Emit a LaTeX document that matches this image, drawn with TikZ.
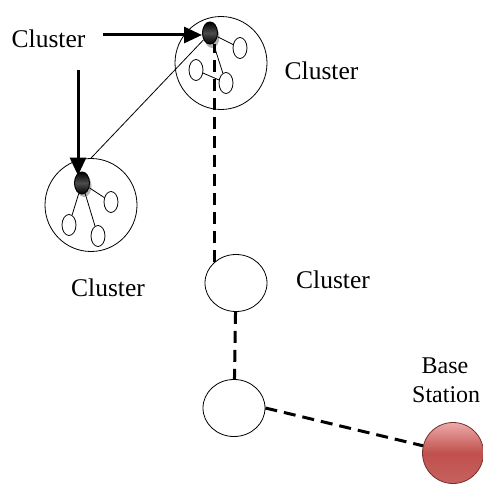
\documentclass[tikz,border=0pt]{standalone}
\usepackage{fontspec}
\setmainfont{Liberation Serif}
\usetikzlibrary{arrows.meta,shapes.geometric}
\definecolor{bsred}{RGB}{192,80,77}
\definecolor{bslight}{RGB}{236,170,168}
\begin{document}
\begin{tikzpicture}[x=1pt,y=-1pt,
  bigcirc/.style={draw,line width=0.8pt,ellipse,minimum width=92pt,minimum height=93pt,inner sep=0},
  midcirc/.style={draw,line width=0.8pt,ellipse,minimum width=62pt,minimum height=57pt,inner sep=0},
  small/.style={draw,line width=0.8pt,ellipse,minimum width=14pt,minimum height=21pt,inner sep=0,fill=white},
  head/.style={ellipse,minimum width=15pt,minimum height=22pt,inner sep=0,draw=black,line width=1pt,
     top color=black,bottom color=black,middle color=gray!60!black},
  link/.style={line width=0.8pt},
  dl/.style={line width=3pt,dash pattern=on 12pt off 7pt},
  arr/.style={line width=3pt,-{Triangle[length=18pt,width=16pt]}},
  lab/.style={inner sep=0,anchor=base,font=\fontsize{25.5}{28}\selectfont},
  lab2/.style={inner sep=0,font=\fontsize{24}{26}\selectfont}]
\useasboundingbox (0,0) rectangle (482,487);

% top cluster
\node[bigcirc] (tc) at (221,63) {};
\fill[gray!60] (212,37) ellipse (7.5pt and 11pt);
\node[small] (ta) at (240,48) {};
\node[small] (tb2) at (196,70) {};
\node[small] (td) at (226,83) {};
\node[head] (tb) at (210,33) {};
\draw[link] (tb) -- (ta);
\draw[link] (tb) -- (td);
\draw[link] (tb2) -- (td);

% left cluster
\node[bigcirc] (lc) at (91,205) {};
\fill[gray!60] (84,186) ellipse (7.5pt and 11pt);
\node[small] (la) at (111,202) {};
\node[small] (lb2) at (69,225) {};
\node[small] (ld) at (98,236) {};
\node[head] (lb) at (82,183) {};
\draw[link] (lb) -- (la);
\draw[link] (lb) -- (lb2);
\draw[link] (lb) -- (ld);

% thin link between clusters
\draw[link] (tb) -- (lc.north);

% middle and lower clusters
\node[midcirc] (mc) at (236,283) {};
\node[midcirc] (bc) at (234,408) {};

% base station
\node[circle,minimum size=61pt,inner sep=0,draw=bsred!60!black,line width=0.8pt,
  top color=bslight,bottom color=bsred!90,middle color=bsred] (bs) at (453,453) {};

% dashed links
\draw[dl] (mc.135) -- (mc.135 |- tb.south);
\draw[dl] (mc) -- (bc);
\draw[dl] (bc.east) -- (bs);

% labels
\node[lab] (l1) at (48.5,48) {Cluster};
\node[lab] (l2) at (321.5,80) {Cluster};
\node[lab] (l3) at (108,296.5) {Cluster};
\node[lab] (l4) at (333,288) {Cluster};
\node[lab2,anchor=base] (bl) at (445,373) {Base};
\node[lab2,anchor=base west] (sl) at (412,402) {Station};

% arrows
\coordinate (h0) at (103,35);
\coordinate (v0) at (78,70);
\draw[arr] (h0) -- (h0 -| tb.west);
\draw[arr,shorten >=-4pt] (v0) -- (v0 |- lb.north);
\end{tikzpicture}
\end{document}
